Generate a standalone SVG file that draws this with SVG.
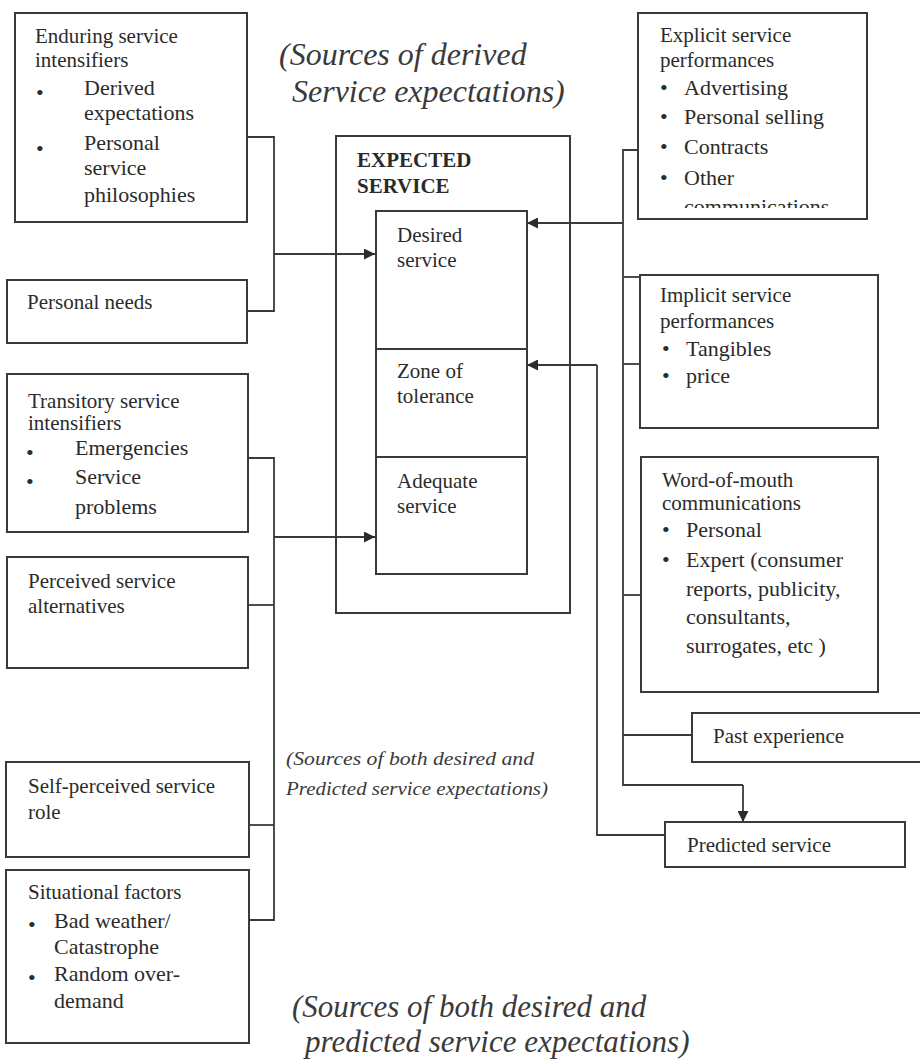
<svg xmlns="http://www.w3.org/2000/svg" width="920" height="1063" viewBox="0 0 920 1063">
<style>
.box{fill:none;stroke:#3a3a3a;stroke-width:2}
.ln{fill:none;stroke:#3a3a3a;stroke-width:1.8}
text{font-family:'Liberation Serif','Tinos','Times New Roman','DejaVu Serif',serif}
.t{font-size:21px;fill:#2b2b2b}
.b{font-size:22px}
.bold{font-weight:bold}
.cap{font-style:italic;fill:#3a3a3a}
</style>
<defs>
<marker id="ah" viewBox="0 0 10 10" refX="10" refY="5" markerWidth="13" markerHeight="11" markerUnits="userSpaceOnUse" orient="auto">
<path d="M0,0 L10,5 L0,10 z" fill="#2b2b2b"/>
</marker>
<clipPath id="clipExp"><rect x="638" y="13" width="229" height="195"/></clipPath>
</defs>
<rect width="920" height="1063" fill="#ffffff"/>

<g id="connectors">
<polyline class="ln" points="247,137 274,137 274,311 247,311"/>
<line class="ln" x1="274" y1="254" x2="375" y2="254" marker-end="url(#ah)"/>
<polyline class="ln" points="248,458 274,458 274,920 249,920"/>
<line class="ln" x1="248" y1="605" x2="274" y2="605"/>
<line class="ln" x1="249" y1="825" x2="274" y2="825"/>
<line class="ln" x1="274" y1="537" x2="375" y2="537" marker-end="url(#ah)"/>
<polyline class="ln" points="638,150 623,150 623,785 743,785"/>
<line class="ln" x1="743" y1="785" x2="743" y2="822" marker-end="url(#ah)"/>
<line class="ln" x1="623" y1="223" x2="527" y2="223" marker-end="url(#ah)"/>
<line class="ln" x1="623" y1="277" x2="640" y2="277"/>
<line class="ln" x1="623" y1="364" x2="640" y2="364"/>
<line class="ln" x1="623" y1="595" x2="641" y2="595"/>
<line class="ln" x1="623" y1="735" x2="692" y2="735"/>
<polyline class="ln" points="665,835 597,835 597,365"/>
<line class="ln" x1="597" y1="365" x2="527" y2="365" marker-end="url(#ah)"/>
</g>

<g id="captions">
<text class="cap" x="279" y="65" font-size="32">(Sources of derived</text>
<text class="cap" x="292" y="102" font-size="32">Service expectations)</text>
<text class="cap" x="286" y="765" font-size="19" textLength="248" lengthAdjust="spacingAndGlyphs">(Sources of both desired and</text>
<text class="cap" x="286" y="795" font-size="19" textLength="262" lengthAdjust="spacingAndGlyphs">Predicted service expectations)</text>
<text class="cap" x="292" y="1017" font-size="31">(Sources of both desired and</text>
<text class="cap" x="305" y="1052" font-size="31">predicted service expectations)</text>
</g>

<g id="enduring">
<rect class="box" x="15" y="13" width="232" height="209"/>
<text class="t" x="35" y="43">Enduring service</text>
<text class="t" x="35" y="67">intensifiers</text>
<text class="t b" x="36" y="100">•</text>
<text class="t b" x="84" y="95">Derived</text>
<text class="t b" x="84" y="120">expectations</text>
<text class="t b" x="36" y="156">•</text>
<text class="t b" x="84" y="150">Personal</text>
<text class="t b" x="84" y="175">service</text>
<text class="t b" x="84" y="202">philosophies</text>
</g>

<g id="personal-needs">
<rect class="box" x="7" y="280" width="240" height="63"/>
<text class="t" x="27" y="309">Personal needs</text>
</g>

<g id="transitory">
<rect class="box" x="7" y="374" width="241" height="158"/>
<text class="t" x="28" y="408">Transitory service</text>
<text class="t" x="28" y="430">intensifiers</text>
<text class="t b" x="26" y="460">•</text>
<text class="t b" x="75" y="455">Emergencies</text>
<text class="t b" x="26" y="489">•</text>
<text class="t b" x="75" y="484">Service</text>
<text class="t b" x="75" y="514">problems</text>
</g>

<g id="perceived-alternatives">
<rect class="box" x="7" y="557" width="241" height="111"/>
<text class="t" x="28" y="588">Perceived service</text>
<text class="t" x="28" y="613">alternatives</text>
</g>

<g id="self-perceived">
<rect class="box" x="6" y="762" width="243" height="95"/>
<text class="t" x="28" y="793">Self-perceived service</text>
<text class="t" x="28" y="819">role</text>
</g>

<g id="situational">
<rect class="box" x="6" y="870" width="243" height="173"/>
<text class="t" x="28" y="899">Situational factors</text>
<text class="t b" x="28" y="932">•</text>
<text class="t b" x="54" y="928">Bad weather/</text>
<text class="t b" x="54" y="954">Catastrophe</text>
<text class="t b" x="28" y="985">•</text>
<text class="t b" x="54" y="981">Random over-</text>
<text class="t b" x="54" y="1008">demand</text>
</g>

<g id="expected-service">
<rect class="box" x="336" y="136" width="234" height="477"/>
<text class="t bold" x="357" y="167">EXPECTED</text>
<text class="t bold" x="357" y="193">SERVICE</text>
</g>

<g id="desired">
<rect class="box" x="376" y="211" width="151" height="138"/>
<text class="t" x="397" y="242">Desired</text>
<text class="t" x="397" y="267">service</text>
</g>

<g id="zone">
<rect class="box" x="376" y="349" width="151" height="108"/>
<text class="t" x="397" y="378">Zone of</text>
<text class="t" x="397" y="403">tolerance</text>
</g>

<g id="adequate">
<rect class="box" x="376" y="457" width="151" height="117"/>
<text class="t" x="397" y="488">Adequate</text>
<text class="t" x="397" y="513">service</text>
</g>

<g id="explicit">
<rect class="box" x="638" y="13" width="229" height="206"/>
<text class="t" x="660" y="42">Explicit service</text>
<text class="t" x="660" y="67">performances</text>
<text class="t b" x="660" y="95">•</text>
<text class="t b" x="684" y="95">Advertising</text>
<text class="t b" x="660" y="124">•</text>
<text class="t b" x="684" y="124">Personal selling</text>
<text class="t b" x="660" y="154">•</text>
<text class="t b" x="684" y="154">Contracts</text>
<text class="t b" x="660" y="185">•</text>
<text class="t b" x="684" y="185">Other</text>
<text class="t b" x="684" y="214" clip-path="url(#clipExp)">communications</text>
</g>

<g id="implicit">
<rect class="box" x="640" y="275" width="238" height="153"/>
<text class="t" x="660" y="302">Implicit service</text>
<text class="t" x="660" y="328">performances</text>
<text class="t b" x="662" y="356">•</text>
<text class="t b" x="686" y="356">Tangibles</text>
<text class="t b" x="662" y="383">•</text>
<text class="t b" x="686" y="383">price</text>
</g>

<g id="word-of-mouth">
<rect class="box" x="641" y="457" width="237" height="235"/>
<text class="t" x="662" y="487">Word-of-mouth</text>
<text class="t" x="662" y="510">communications</text>
<text class="t b" x="662" y="537">•</text>
<text class="t b" x="686" y="537">Personal</text>
<text class="t b" x="662" y="567">•</text>
<text class="t b" x="686" y="567">Expert (consumer</text>
<text class="t b" x="686" y="596">reports, publicity,</text>
<text class="t b" x="686" y="624">consultants,</text>
<text class="t b" x="686" y="653">surrogates, etc )</text>
</g>

<g id="past-experience">
<rect class="box" x="692" y="713" width="240" height="49"/>
<text class="t" x="713" y="743">Past experience</text>
</g>

<g id="predicted">
<rect class="box" x="665" y="822" width="240" height="45"/>
<text class="t" x="687" y="852">Predicted service</text>
</g>
</svg>
